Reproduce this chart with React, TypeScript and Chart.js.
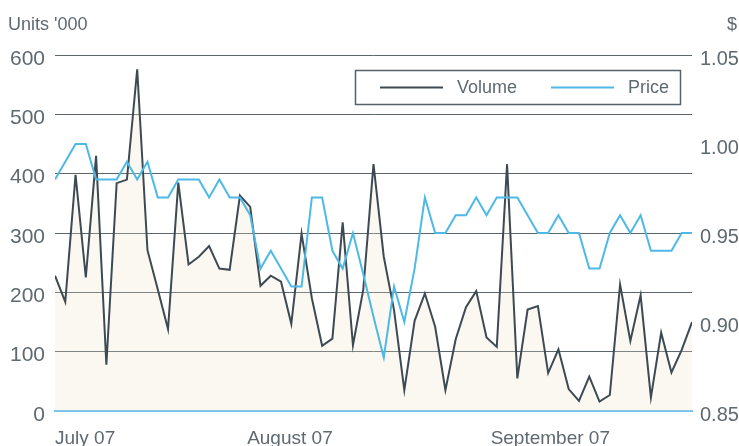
import React, { useEffect, useRef } from 'react';
import { Chart, registerables } from 'chart.js';

Chart.register(...registerables);

// Daily trading volume (units '000), one value per trading day
const volume = [
  228, 184, 398, 225, 430, 78, 384, 390, 576, 271,
  205, 138, 385, 247, 260, 278, 240, 238, 363, 344,
  211, 228, 218, 147, 299, 190, 110, 122, 318, 111,
  204, 416, 260, 170, 35, 152, 198, 142, 35, 121,
  175, 202, 124, 108, 416, 55, 171, 177, 64, 104,
  37, 17, 58, 16, 27, 213, 118, 195, 23, 132,
  65, 103, 150,
];

// Daily closing price ($)
const price = [
  0.98, 0.99, 1.0, 1.0, 0.98, 0.98, 0.98, 0.99, 0.98, 0.99,
  0.97, 0.97, 0.98, 0.98, 0.98, 0.97, 0.98, 0.97, 0.97, 0.96,
  0.93, 0.94, 0.93, 0.92, 0.92, 0.97, 0.97, 0.94, 0.93, 0.95,
  0.927, 0.903, 0.88, 0.92, 0.9, 0.93, 0.97, 0.95, 0.95, 0.96,
  0.96, 0.97, 0.96, 0.97, 0.97, 0.97, 0.96, 0.95, 0.95, 0.96,
  0.95, 0.95, 0.93, 0.93, 0.95, 0.96, 0.95, 0.96, 0.94, 0.94,
  0.94, 0.95, 0.95,
];

const seriesNames = ['Volume', 'Price'];
const monthLabels = ['July 07', 'August 07', 'September 07'];
const monthTickAt = [0, 18.7, 42.4];

const FONT = "'Liberation Sans', Arial, Helvetica, sans-serif";
const TEXT = '#5e6970';
const DARK = '#3d4a53';
const BLUE = '#4db9e7';
const GRID = '#5b656c';

export default function App() {
  const ref = useRef<HTMLCanvasElement>(null);

  useEffect(() => {
    const canvas = ref.current;
    if (!canvas) return;

    const axisTitles = {
      id: 'axisTitles',
      afterDraw(chart: any) {
        const ctx = chart.ctx;
        ctx.save();
        ctx.font = `18px ${FONT}`;
        ctx.fillStyle = TEXT;
        ctx.textBaseline = 'middle';
        ctx.textAlign = 'left';
        ctx.fillText("Units '000", 8, 25);
        ctx.fillText('$', 727, 25);
        ctx.restore();
      },
    };

    const boxLegend = {
      id: 'boxLegend',
      afterDraw(chart: any) {
        const ctx = chart.ctx;
        ctx.save();
        const bx = 355.5, by = 70.5, bw = 325, bh = 34;
        ctx.fillStyle = '#ffffff';
        ctx.fillRect(bx, by, bw, bh);
        ctx.strokeStyle = '#56616a';
        ctx.lineWidth = 1.5;
        ctx.strokeRect(bx, by, bw, bh);
        ctx.font = `18px ${FONT}`;
        ctx.textBaseline = 'middle';
        ctx.textAlign = 'left';
        const cy = by + bh / 2;
        let x = 380;
        chart.data.datasets.forEach((ds: any) => {
          ctx.strokeStyle = ds.borderColor;
          ctx.lineWidth = 2;
          ctx.beginPath();
          ctx.moveTo(x, cy);
          ctx.lineTo(x + 63, cy);
          ctx.stroke();
          ctx.fillStyle = TEXT;
          ctx.fillText(ds.label, x + 77, cy + 1);
          x = x + 77 + ctx.measureText(ds.label).width + 34;
        });
        ctx.restore();
      },
    };

    const chart = new Chart(canvas, {
      type: 'line',
      data: {
        datasets: [
          {
            label: seriesNames[0],
            data: volume.map((v, i) => ({ x: i, y: v })),
            yAxisID: 'y',
            borderColor: DARK,
            backgroundColor: 'rgba(238,226,199,0.25)',
            borderWidth: 2,
            pointRadius: 0,
            tension: 0,
            fill: 'origin',
            order: 2,
          },
          {
            label: seriesNames[1],
            data: price.map((v, i) => ({ x: i, y: v })),
            yAxisID: 'y1',
            borderColor: BLUE,
            backgroundColor: BLUE,
            borderWidth: 2,
            pointRadius: 0,
            tension: 0,
            fill: false,
            order: 1,
          },
        ],
      },
      options: {
        responsive: false,
        animation: false,
        devicePixelRatio: 1,
        layout: { padding: { top: 55, left: 0, right: 0, bottom: 0 } },
        plugins: {
          legend: { display: false },
          tooltip: { enabled: false },
        },
        scales: {
          x: {
            type: 'linear',
            min: 0,
            max: volume.length - 1,
            afterBuildTicks: (scale: any) => {
              scale.ticks = monthTickAt.map((v) => ({ value: v }));
            },
            afterFit: (scale: any) => {
              scale.height = 35;
            },
            grid: { display: false },
            border: { display: true, color: '#6cc2ea', width: 2 },
            ticks: {
              autoSkip: false,
              maxRotation: 0,
              align: 'start',
              padding: 8,
              color: TEXT,
              font: { family: FONT, size: 19 },
              callback: (value: any) => {
                const k = monthTickAt.indexOf(Number(value));
                return k >= 0 ? monthLabels[k] : '';
              },
            },
          },
          y: {
            position: 'left',
            min: 0,
            max: 600,
            afterFit: (scale: any) => {
              scale.width = 55;
            },
            border: { display: false },
            grid: {
              drawTicks: false,
              lineWidth: 1,
              color: (c: any) => (c.tick && c.tick.value === 0 ? 'rgba(0,0,0,0)' : GRID),
            },
            ticks: {
              stepSize: 100,
              padding: 10,
              labelOffset: 4,
              color: TEXT,
              font: { family: FONT, size: 21 },
            },
          },
          y1: {
            position: 'right',
            min: 0.85,
            max: 1.05,
            afterFit: (scale: any) => {
              scale.width = 47;
            },
            border: { display: false },
            grid: { display: false, drawTicks: false },
            ticks: {
              stepSize: 0.05,
              padding: 8,
              labelOffset: 4,
              color: TEXT,
              font: { family: FONT, size: 20 },
              callback: (v: any) => Number(v).toFixed(2),
            },
          },
        },
      },
      plugins: [axisTitles, boxLegend],
    } as any);

    return () => chart.destroy();
  }, []);

  return (
    <div style={{ position: 'fixed', left: 0, top: 0, width: 739, height: 446, background: '#ffffff' }}>
      <canvas ref={ref} width={739} height={446} style={{ display: 'block', width: 739, height: 446 }} />
    </div>
  );
}
